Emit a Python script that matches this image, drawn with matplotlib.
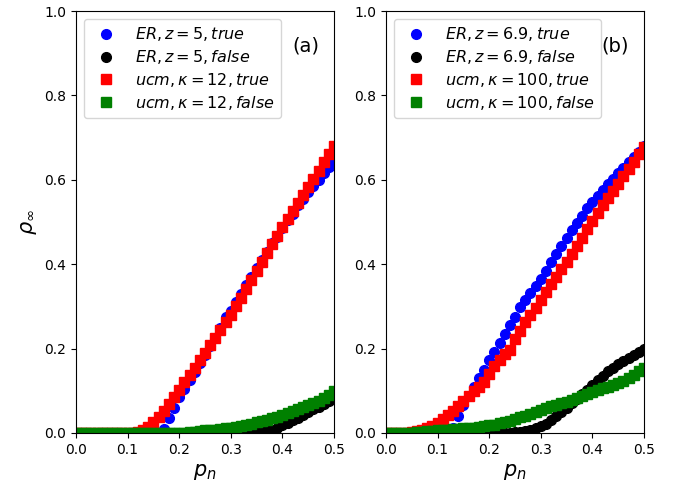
import matplotlib
matplotlib.use("Agg")
import matplotlib.pyplot as plt

p = [0.00, 0.01, 0.02, 0.03, 0.04, 0.05, 0.06, 0.07, 0.08, 0.09,
     0.10, 0.11, 0.12, 0.13, 0.14, 0.15, 0.16, 0.17, 0.18, 0.19,
     0.20, 0.21, 0.22, 0.23, 0.24, 0.25, 0.26, 0.27, 0.28, 0.29,
     0.30, 0.31, 0.32, 0.33, 0.34, 0.35, 0.36, 0.37, 0.38, 0.39,
     0.40, 0.41, 0.42, 0.43, 0.44, 0.45, 0.46, 0.47, 0.48, 0.49, 0.50]

# Panel (a)
er5_true = [0]*17 + [0.010, 0.035, 0.060, 0.085, 0.105, 0.125, 0.145, 0.165, 0.185,
             0.205, 0.225, 0.250, 0.275, 0.290, 0.310, 0.330, 0.350, 0.370, 0.390,
             0.410, 0.430, 0.450, 0.465, 0.485, 0.505, 0.520, 0.540, 0.555, 0.570,
             0.585, 0.600, 0.615, 0.630, 0.645]
er5_false = [0]*36 + [0.002, 0.005, 0.008, 0.013, 0.018, 0.024, 0.030, 0.036, 0.043,
              0.050, 0.056, 0.062, 0.069, 0.077, 0.085]
ucm12_true = [0]*12 + [0.003, 0.008, 0.015, 0.025, 0.038, 0.052, 0.068, 0.085, 0.102,
               0.120, 0.138, 0.155, 0.173, 0.190, 0.208, 0.226, 0.244, 0.262, 0.280,
               0.300, 0.320, 0.342, 0.363, 0.384, 0.405, 0.426, 0.447, 0.468, 0.489,
               0.508, 0.527, 0.546, 0.565, 0.584, 0.603, 0.622, 0.641, 0.660, 0.680]
ucm12_false = [0]*21 + [0.001, 0.002, 0.003, 0.005, 0.006, 0.007, 0.008, 0.009, 0.011,
                0.013, 0.015, 0.017, 0.020, 0.022, 0.025, 0.028, 0.031, 0.035, 0.039,
                0.043, 0.047, 0.051, 0.056, 0.061, 0.066, 0.071, 0.077, 0.083, 0.090,
                0.100]

# Panel (b)
er69_true = [0]*13 + [0.012, 0.040, 0.066, 0.088, 0.110, 0.130, 0.150, 0.172, 0.192,
              0.213, 0.234, 0.255, 0.275, 0.298, 0.315, 0.332, 0.348, 0.365, 0.385,
              0.405, 0.424, 0.443, 0.463, 0.480, 0.497, 0.515, 0.532, 0.547, 0.562,
              0.576, 0.590, 0.603, 0.616, 0.629, 0.642, 0.655, 0.667, 0.680]
er69_false = [0]*24 + [0.001, 0.002, 0.003, 0.005, 0.007, 0.011, 0.016, 0.022, 0.030,
               0.040, 0.050, 0.060, 0.070, 0.081, 0.092, 0.103, 0.114, 0.125, 0.136,
               0.146, 0.155, 0.163, 0.170, 0.178, 0.186, 0.193, 0.200]
ucm100_true = [0]*4 + [0.001, 0.002, 0.004, 0.007, 0.011, 0.016, 0.023, 0.032, 0.042,
                0.053, 0.065, 0.076, 0.088, 0.099, 0.110, 0.120, 0.140, 0.158, 0.173,
                0.187, 0.197, 0.222, 0.242, 0.262, 0.280, 0.297, 0.315, 0.333, 0.352,
                0.370, 0.388, 0.405, 0.424, 0.442, 0.462, 0.483, 0.503, 0.522, 0.540,
                0.557, 0.574, 0.591, 0.608, 0.625, 0.643, 0.660, 0.678]
ucm100_false = [0.001, 0.001, 0.001, 0.001, 0.001, 0.001, 0.002, 0.003, 0.004, 0.005,
                 0.006, 0.007, 0.008, 0.009, 0.010, 0.011, 0.012, 0.013, 0.014, 0.016,
                 0.018, 0.020, 0.023, 0.026, 0.029, 0.033, 0.037, 0.041, 0.045, 0.050,
                 0.055, 0.059, 0.063, 0.067, 0.070, 0.074, 0.078, 0.083, 0.088, 0.093,
                 0.098, 0.102, 0.106, 0.110, 0.114, 0.118, 0.124, 0.130, 0.138, 0.146,
                 0.154]

panels = [
    dict(tag="(a)", series=[
        (er5_true, "o", "blue", r"$ER, z=5, true$"),
        (er5_false, "o", "black", r"$ER, z=5, false$"),
        (ucm12_true, "s", "red", r"$ucm, \kappa=12, true$"),
        (ucm12_false, "s", "green", r"$ucm, \kappa=12, false$"),
    ]),
    dict(tag="(b)", series=[
        (er69_true, "o", "blue", r"$ER, z=6.9, true$"),
        (er69_false, "o", "black", r"$ER, z=6.9, false$"),
        (ucm100_true, "s", "red", r"$ucm, \kappa=100, true$"),
        (ucm100_false, "s", "green", r"$ucm, \kappa=100, false$"),
    ]),
]

fig = plt.figure(figsize=(6.79, 4.92), dpi=100)
W, H = 679, 492
lefts = [76, 386]
for i, pan in enumerate(panels):
    ax = fig.add_axes([lefts[i]/W, (H-433)/H, 258/W, 422/H])
    for vals, mk, col, lab in pan["series"]:
        ax.plot(p, vals, linestyle="none", marker=mk, color=col,
                markersize=7, label=lab)
    ax.set_xlim(0, 0.5)
    ax.set_ylim(0, 1.0)
    ax.set_xticks([0.0, 0.1, 0.2, 0.3, 0.4, 0.5])
    ax.set_yticks([0.0, 0.2, 0.4, 0.6, 0.8, 1.0])
    ax.set_xlabel(r"$p_n$", fontsize=15)
    if i == 0:
        ax.set_ylabel(r"$\rho_{\infty}$", fontsize=15)
    ax.legend(loc="upper left", fontsize=11.5, handlelength=2.0,
              labelspacing=0.3)
    ax.text(0.89, 0.916, pan["tag"], transform=ax.transAxes, fontsize=14,
            ha="center", va="center")

fig.savefig("out.png", dpi=100)
